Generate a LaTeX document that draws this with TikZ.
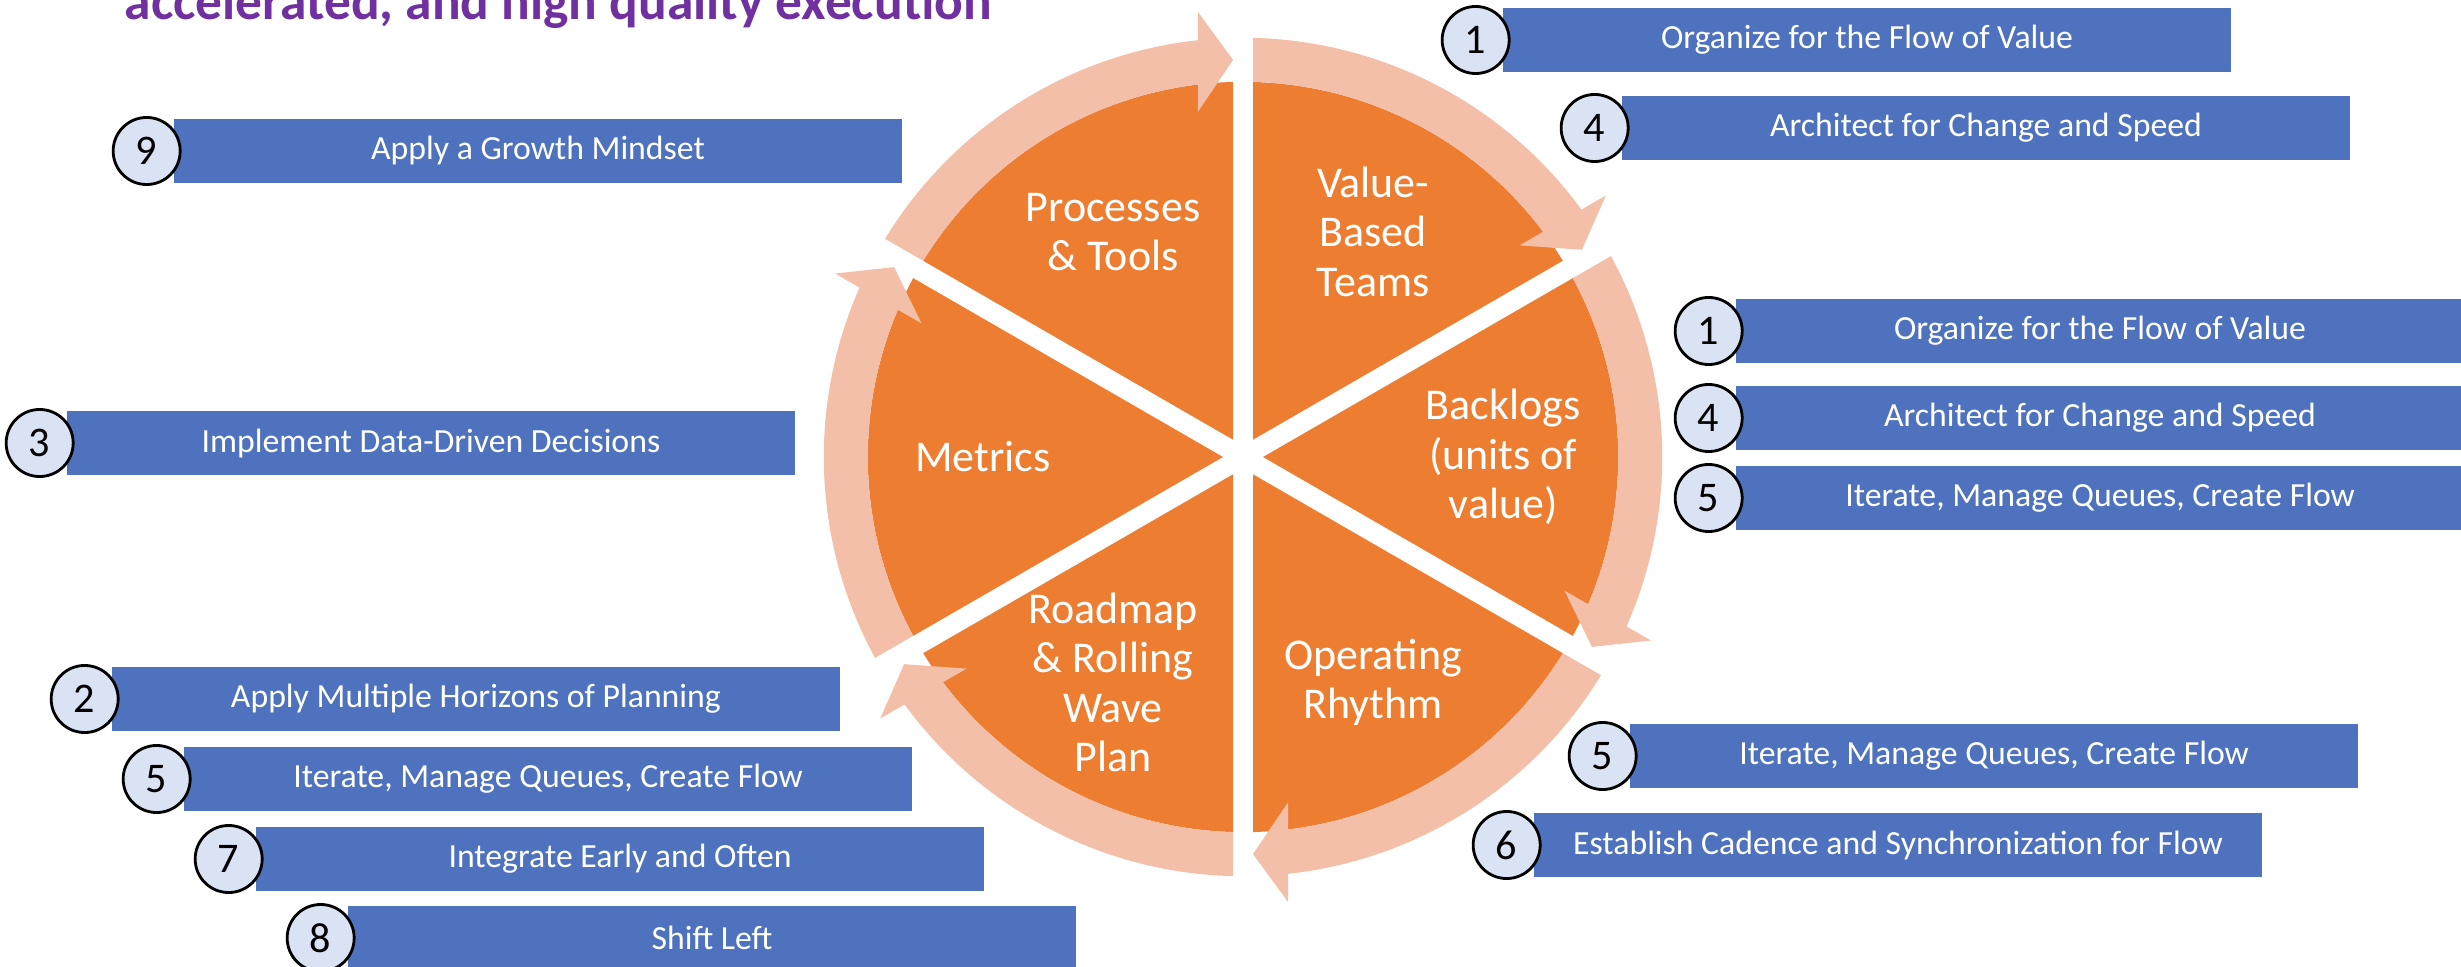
\documentclass[tikz,border=0pt]{standalone}
\usepackage{fontspec}
\setmainfont{Carlito}
\usetikzlibrary{positioning}

\definecolor{pieorange}{HTML}{ED7D31}
\definecolor{ringpink}{HTML}{F4BFA9}
\definecolor{boxblue}{HTML}{4E72BE}
\definecolor{numfill}{HTML}{DAE3F3}
\definecolor{titlepurple}{HTML}{7030A0}

\tikzset{
    stepbox/.style={rectangle,fill=boxblue,inner sep=0pt,minimum width=7.28cm,minimum height=0.63cm,
                    text=white,font=\fontsize{9.6}{11}\selectfont},
    stepnum/.style={circle,draw=black,line width=0.8pt,fill=numfill,inner sep=0pt,minimum size=0.67cm,
                    font=\fontsize{12}{14}\selectfont},
    sectorlabel/.style={text=white,align=center,inner sep=0pt,font=\fontsize{12.5}{14}\selectfont}
}

\begin{document}
\begin{tikzpicture}[x=0.01cm,y=0.01cm]
\useasboundingbox (0,0) rectangle (2461,-967);

\node[anchor=base west,text=titlepurple,inner sep=0pt,font=\fontsize{15.2}{18}\bfseries\selectfont]
    (title) at (124,-20) {accelerated, and high quality execution};

\begin{scope}[shift={(1243,-457)},x=1cm,y=1cm]
    \foreach \k in {0,...,5} {
        \begin{scope}[rotate=-60*\k]
            \fill[pieorange] (60:0.2) -- (88.47:3.75) arc[start angle=88.47,end angle=31.53,radius=3.75] -- cycle;
        \end{scope}
    }
    \foreach \k in {0,...,5} {
        \begin{scope}[rotate=-60*\k]
            \fill[ringpink] (88.63:4.19) arc[start angle=88.63,end angle=36.17,radius=4.19]
                -- (35.78:4.47) -- (31.44:3.97) -- (37.43:3.48) -- (36.89:3.75)
                arc[start angle=36.89,end angle=88.47,radius=3.75] -- cycle;
        \end{scope}
    }
    \node[sectorlabel] (value)   at (60:2.6)   {Value-\\Based\\Teams};
    \node[sectorlabel] (backlog) at (0:2.6)    {Backlogs\\(units of\\value)};
    \node[sectorlabel] (rhythm)  at (-60:2.6)  {Operating\\Rhythm};
    \node[sectorlabel] (roadmap) at (-120:2.6) {Roadmap\\\& Rolling\\Wave\\Plan};
    \node[sectorlabel] (metrics) at (180:2.6)  {Metrics};
    \node[sectorlabel] (tools)   at (120:2.6)  {Processes\\\& Tools};
\end{scope}

\node[stepbox] (organize_top)  at (1867,-40)  {Organize for the Flow of Value};
\node[stepbox] (architect_top) at (1986,-128) {Architect for Change and Speed};
\node[stepbox] (organize_mid)  at (2100,-331) {Organize for the Flow of Value};
\node[stepbox] (architect_mid) at (2100,-418) {Architect for Change and Speed};
\node[stepbox] (iterate_mid)   at (2100,-498) {Iterate, Manage Queues, Create Flow};
\node[stepbox] (iterate_low)   at (1994,-756) {Iterate, Manage Queues, Create Flow};
\node[stepbox] (cadence)       at (1898,-845) {Establish Cadence and Synchronization for Flow};
\node[stepbox] (growth)        at (538,-151)  {Apply a Growth Mindset};
\node[stepbox] (data)          at (431,-443)  {Implement Data-Driven Decisions};
\node[stepbox] (horizons)      at (476,-699)  {Apply Multiple Horizons of Planning};
\node[stepbox] (iterate_left)  at (548,-779)  {Iterate, Manage Queues, Create Flow};
\node[stepbox] (integrate)     at (620,-859)  {Integrate Early and Often};
\node[stepbox] (shift)         at (712,-938)  {Shift Left};

\begin{scope}[every node/.style={stepnum}]
    \node[left=-0.085cm of organize_top]  (n_organize_top)  {1};
    \node[left=-0.085cm of architect_top] (n_architect_top) {4};
    \node[left=-0.085cm of organize_mid]  (n_organize_mid)  {1};
    \node[left=-0.085cm of architect_mid] (n_architect_mid) {4};
    \node[left=-0.085cm of iterate_mid]   (n_iterate_mid)   {5};
    \node[left=-0.085cm of iterate_low]   (n_iterate_low)   {5};
    \node[left=-0.085cm of cadence]       (n_cadence)       {6};
    \node[left=-0.085cm of growth]        (n_growth)        {9};
    \node[left=-0.085cm of data]          (n_data)          {3};
    \node[left=-0.085cm of horizons]      (n_horizons)      {2};
    \node[left=-0.085cm of iterate_left]  (n_iterate_left)  {5};
    \node[left=-0.085cm of integrate]     (n_integrate)     {7};
    \node[left=-0.085cm of shift]         (n_shift)         {8};
\end{scope}
\end{tikzpicture}
\end{document}
